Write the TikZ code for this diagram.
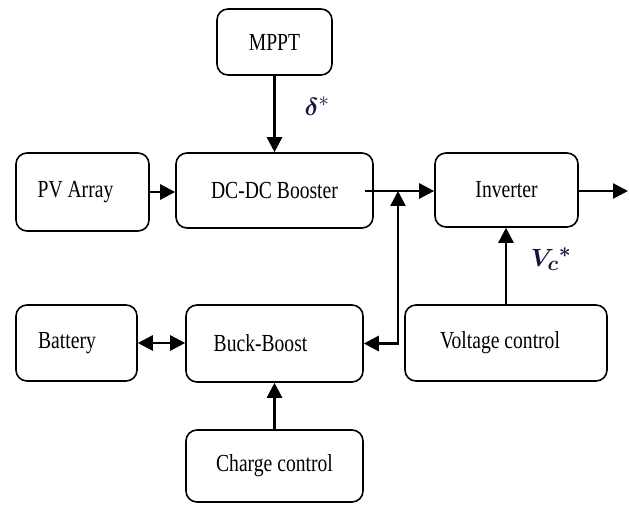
\documentclass[tikz,border=0pt]{standalone}
\usepackage{amsmath,bm}
\usepackage{fontspec}
\setmainfont{Liberation Serif}[FakeStretch=0.8]
\usetikzlibrary{arrows.meta,calc}
\definecolor{lab}{rgb}{0.08,0.08,0.25}
\begin{document}
\begin{tikzpicture}[x=1pt,y=-1pt,
  box/.style={draw, line width=1.6pt, rounded corners=11pt, inner sep=0pt,
    font=\fontsize{24.5}{28}\selectfont},
  conn/.style={line width=2.6pt, -{Triangle[length=15pt,width=15pt]}},
  dconn/.style={line width=2.6pt, {Triangle[length=15pt,width=15pt]}-{Triangle[length=15pt,width=15pt]}},
  lbl/.style={text=lab, inner sep=0pt}]
\useasboundingbox (0,0) rectangle (629,505);
\node[box, minimum width=115pt, minimum height=66pt] (mppt) at (274.5,42) {MPPT};
\node[box, minimum width=133pt, minimum height=78pt] (pv) at (82.5,192) {\hspace*{-14pt}PV Array};
\node[box, minimum width=197pt, minimum height=75pt] (boost) at (274.5,190.5) {DC-DC Booster};
\node[box, minimum width=143pt, minimum height=74pt] (inv) at (506.5,190) {Inverter};
\node[box, minimum width=121pt, minimum height=76pt] (bat) at (76.5,343) {\hspace*{-19pt}Battery};
\node[box, minimum width=177pt, minimum height=77pt] (bb) at (274.5,343.5) {\hspace*{-28pt}Buck-Boost};
\node[box, minimum width=202pt, minimum height=76pt] (vc) at (506,343) {\hspace*{-12pt}Voltage control};
\node[box, minimum width=177pt, minimum height=72pt] (cc) at (274.5,466) {Charge control};
\coordinate (bs) at (365,191);
\coordinate (J) at (398,191);
\coordinate (out) at (628,191);
\draw[conn] (mppt.south) -- (boost.north);
\draw[conn] (pv.east) -- (pv.east -| boost.west);
\draw[conn] (bs) -- (bs -| inv.west);
\draw[dconn] (J) |- (bb.east);
\draw[conn] (vc.north) -- (vc.north |- inv.south);
\draw[conn] (inv.east |- out) -- (out);
\draw[dconn] (bat.east) -- (bat.east -| bb.west);
\draw[conn] (cc.north) -- (bb.south);
\node[lbl, font=\fontsize{30}{34}\selectfont] (delta) at (317,106) {$\bm{\delta}^{*}$};
\node[lbl, font=\fontsize{32}{36}\selectfont] (vcs) at (551,259) {$\bm{V_c{}^{*}}$};
\end{tikzpicture}
\end{document}
